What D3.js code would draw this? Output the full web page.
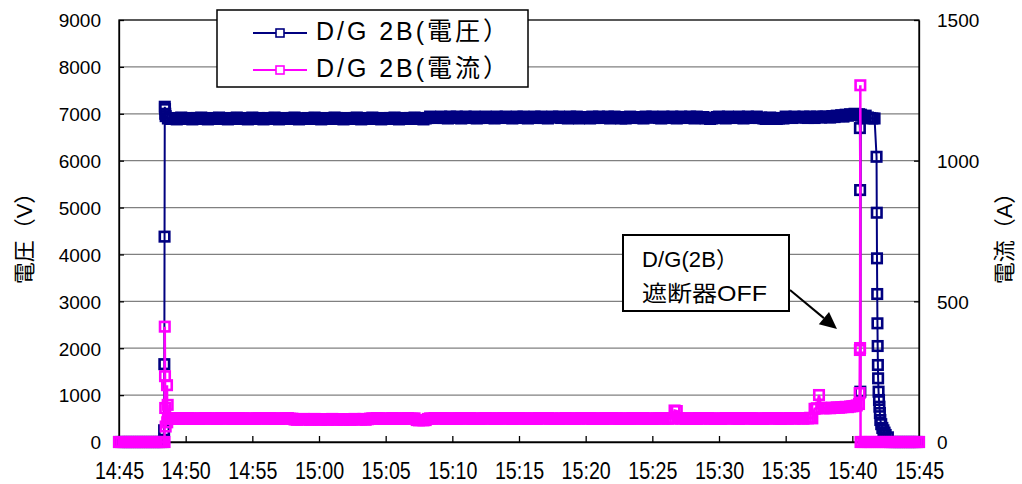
<!DOCTYPE html>
<html><head><meta charset="utf-8">
<script src="https://cdn.jsdelivr.net/npm/d3@7"></script>
<style>body{margin:0;background:#fff} svg{display:block}</style>
</head><body><svg id="c" width="1022" height="484"></svg>
<script>
// ---------------- DATA ----------------
const seriesNames = ["D/G 2B(電圧）", "D/G 2B(電流）"];
const timeTickLabels = ["14:45","14:50","14:55","15:00","15:05","15:10","15:15","15:20","15:25","15:30","15:35","15:40","15:45"];
const timeTickSec = [0,300,600,900,1200,1500,1800,2100,2400,2700,3000,3300,3600];
const voltTicks = [0,1000,2000,3000,4000,5000,6000,7000,8000,9000];
const currTicks = [0,500,1000,1500];
const voltTitle = "電圧（V）";
const currTitle = "電流（A）";
const annotationLines = ["D/G(2B）", "遮断器OFF"];

// regular log: one sample every 10 s from 14:45:00 (seconds after 14:45:00), one row per minute
const gridStepSec = 10;
const voltGrid = [
0,0,0,0,0,0,
0,0,0,0,0,0,
0,0,0,0,0,0,
0,0,0,6950,6900,6890,
6910,6900,6880,6900,6920,6900,
6890,6900,6910,6880,6900,6910,
6900,6920,6890,6900,6880,6900,
6910,6890,6900,6920,6900,6890,
6900,6880,6910,6900,6890,6920,
6900,6910,6890,6900,6880,6900,
6920,6900,6890,6910,6900,6880,
6900,6910,6900,6890,6920,6900,
6880,6900,6910,6900,6890,6900,
6910,6920,6900,6880,6900,6890,
6900,6910,6890,6900,6920,6900,
6890,6880,6900,6910,6900,6890,
6900,6920,6910,6890,6900,6880,
6910,6900,6890,6900,6910,6920,
6900,6880,6900,6890,6910,6900,
6920,6900,6890,6900,6880,6910,
6900,6890,6910,6900,6920,6900,
6880,6900,6910,6890,6900,6910,
6900,6920,6890,6900,6910,6880,
6900,6910,6940,6920,6930,6910,
6920,6940,6910,6930,6900,6940,
6930,6910,6940,6920,6900,6930,
6940,6920,6910,6930,6940,6900,
6910,6930,6920,6940,6910,6930,
6920,6900,6940,6930,6910,6920,
6940,6920,6930,6900,6930,6940,
6910,6930,6940,6920,6900,6930,
6930,6940,6910,6920,6940,6910,
6920,6900,6930,6940,6920,6930,
6940,6910,6920,6930,6900,6940,
6910,6930,6940,6900,6930,6920,
6930,6920,6900,6940,6910,6930,
6940,6930,6910,6920,6940,6900,
6920,6940,6930,6910,6900,6930,
6900,6920,6940,6930,6920,6910,
6930,6910,6900,6940,6930,6920,
6940,6920,6930,6910,6900,6940,
6910,6930,6920,6940,6930,6900,
6920,6940,6910,6930,6920,6940,
6930,6900,6940,6920,6910,6930,
6900,6910,6890,6900,6910,6930,
6940,6920,6930,6900,6940,6930,
6920,6930,6910,6940,6920,6900,
6930,6940,6920,6910,6930,6940,
6910,6920,6900,6890,6900,6920,
6900,6910,6890,6900,6910,6900,
6940,6920,6930,6910,6940,6930,
6920,6930,6940,6920,6910,6940,
6930,6910,6940,6930,6920,6940,
6940,6930,6920,6950,6930,6960,
6950,6970,6940,6980,6960,6990,
6970,7000,6980,6990,6960,6940,
6960,6920,6910,6900,6900,4890,
896,380,250,150,100,0,
0,0,0,0,0,0,
0,0,0,0,0,0,
0
];
const currGrid = [
0,0,0,0,0,0,
0,0,0,0,0,0,
0,0,0,0,0,0,
0,0,0,55,83,84,
84,83,85,82,84,83,
83,85,84,82,83,84,
82,84,83,85,84,83,
84,83,82,84,85,83,
83,84,85,83,82,84,
85,83,84,82,83,84,
83,82,84,85,83,84,
84,83,85,83,82,84,
82,84,83,84,85,83,
83,80,79,81,80,82,
81,80,79,80,82,81,
80,79,81,80,79,81,
82,80,79,81,80,79,
80,81,79,80,82,80,
81,80,82,79,81,83,
84,83,85,84,83,82,
83,84,82,85,84,83,
84,82,83,84,85,83,
83,84,78,77,78,77,
78,82,84,83,85,84,
83,85,84,82,83,84,
84,83,82,84,85,83,
83,84,85,83,82,84,
82,83,84,85,83,84,
84,82,83,84,83,85,
83,84,85,82,84,83,
85,83,84,83,82,84,
83,84,82,85,84,83,
84,85,83,84,82,83,
82,84,83,85,83,84,
83,82,84,83,85,84,
84,83,85,82,83,84,
83,84,82,84,85,83,
85,83,84,83,82,84,
84,82,83,85,84,83,
83,84,85,83,82,84,
82,83,84,84,85,83,
84,83,85,83,112,110,
85,83,84,82,84,83,
83,84,82,85,83,84,
84,85,83,84,82,83,
83,82,84,85,84,83,
85,84,83,82,84,85,
83,84,85,84,83,82,
84,83,82,84,85,84,
83,85,84,83,82,84,
84,83,85,84,83,85,
85,84,83,85,84,86,
84,118,120,167,122,120,
120,121,120,122,121,123,
122,123,124,125,124,126,
127,128,130,135,0,0,
0,0,0,0,0,0,
0,0,0,0,0,0,
0,0,0,0,0,0,
0,0,0,0,0,0,
0
];
// fast-logged points around the switching events (seconds after 14:45:00)
const voltBurstSec = [203,204,205,206,207,208, 3334,3335,3336,3338, 3409,3411,3412,3413,3414,3415,3416,3418,3422,3424,3426,3435,3445];
const voltBurstVal = [250,1660,4380,7150,7100,7000, 6695,5373,1073,6980, 6083,3917,3156,2531,2047,1642,1358,1073,753,618,469,300,200];
const currBurstSec = [205,206,207,208,216,217,219, 3333,3334,3335,3336,3337];
const currBurstVal = [0,410,234,121,202,70,132, 174,327,334,1268,0];

// ---------------- CHART ----------------
const svg = d3.select("#c");
const pL = 119, pR = 919, pT = 20, pB = 442;
const FONT = "'Liberation Sans', Arial, 'Noto Sans CJK JP', sans-serif";
const navy = "#000080", mag = "#FF00FF";

const x = d3.scaleLinear().domain([0, 3600]).range([pL, pR]);
const yV = d3.scaleLinear().domain([0, 9000]).range([pB, pT]);
const yA = d3.scaleLinear().domain([0, 1500]).range([pB, pT]);

function build(grid, bs, bv) {
  return grid.map((v, i) => ({t: i * gridStepSec, v}))
    .concat(bs.map((t, i) => ({t, v: bv[i]})))
    .sort((a, b) => a.t - b.t);
}
const voltPts = build(voltGrid, voltBurstSec, voltBurstVal);
const currPts = build(currGrid, currBurstSec, currBurstVal);

// gridlines
svg.append("g").selectAll("line").data(voltTicks.filter(d => d > 0 && d < 9000)).join("line")
  .attr("x1", pL).attr("x2", pR).attr("y1", d => yV(d)).attr("y2", d => yV(d))
  .attr("stroke", "#808080").attr("stroke-width", 1.3);

// frame
svg.append("rect").attr("x", pL).attr("y", pT).attr("width", pR - pL).attr("height", pB - pT)
  .attr("fill", "none").attr("stroke", "#000").attr("stroke-width", 1.3);

// axes
const fmt = d3.format("d");
const axL = svg.append("g").attr("transform", `translate(${pL},0)`)
  .call(d3.axisLeft(yV).tickValues(voltTicks).tickFormat(fmt).tickSizeInner(-5).tickSizeOuter(0).tickPadding(18));
const axR = svg.append("g").attr("transform", `translate(${pR},0)`)
  .call(d3.axisRight(yA).tickValues(currTicks).tickFormat(fmt).tickSizeInner(-5).tickSizeOuter(0).tickPadding(18));
const axB = svg.append("g").attr("transform", `translate(0,${pB})`)
  .call(d3.axisBottom(x).tickValues(timeTickSec).tickFormat((d, i) => timeTickLabels[i]).tickSizeInner(-6).tickSizeOuter(0));
[axL, axR, axB].forEach(a => {
  a.select(".domain").attr("stroke", "#000").attr("stroke-width", 1.3);
  a.selectAll(".tick line").attr("stroke", "#000").attr("stroke-width", 1.3);
  a.selectAll("text").attr("font-family", FONT).attr("fill", "#000");
});
axL.selectAll("text").attr("font-size", 19).attr("dy", "0.36em");
axR.selectAll("text").attr("font-size", 19).attr("dy", "0.36em");
axB.selectAll("text").attr("font-size", 24).attr("y", 0).attr("dy", 0)
  .attr("transform", "translate(0,37) scale(0.82,1)");

// series
function drawSeries(pts, ys, color, lw) {
  const g = svg.append("g");
  g.append("path").datum(pts)
    .attr("d", d3.line().x(d => x(d.t)).y(d => ys(d.v)))
    .attr("fill", "none").attr("stroke", color).attr("stroke-width", lw);
  g.selectAll("rect").data(pts).join("rect")
    .attr("x", d => x(d.t) - 4.75).attr("y", d => ys(d.v) - 4.75)
    .attr("width", 9.5).attr("height", 9.5)
    .attr("fill", "none").attr("stroke", color).attr("stroke-width", 2.6);
}
drawSeries(voltPts, yV, navy, 2);
drawSeries(currPts, yA, mag, 2.5);

// axis titles
svg.append("text").attr("transform", "translate(32,233) rotate(-90)")
  .attr("text-anchor", "middle").attr("font-family", FONT).attr("font-size", 22).text(voltTitle);
svg.append("text").attr("transform", "translate(1012,233) rotate(-90)")
  .attr("text-anchor", "middle").attr("font-family", FONT).attr("font-size", 22).text(currTitle);

// legend
const lg = svg.append("g");
lg.append("rect").attr("x", 217).attr("y", 10).attr("width", 311).attr("height", 77)
  .attr("fill", "#fff").attr("stroke", "#000").attr("stroke-width", 1.5);
[[navy, 33, 40], [mag, 70, 77]].forEach(([c, ly, by], i) => {
  lg.append("line").attr("x1", 253).attr("x2", 307).attr("y1", ly).attr("y2", ly)
    .attr("stroke", c).attr("stroke-width", 2);
  lg.append("rect").attr("x", 276).attr("y", ly - 4).attr("width", 8).attr("height", 8)
    .attr("fill", "#fff").attr("stroke", c).attr("stroke-width", 1.6);
  lg.append("text").attr("x", 316).attr("y", by).attr("font-family", FONT).attr("font-size", 25)
    .attr("textLength", 192).attr("lengthAdjust", "spacing").text(seriesNames[i]);
});

// annotation
const an = svg.append("g");
an.append("rect").attr("x", 623).attr("y", 235).attr("width", 166).attr("height", 76)
  .attr("fill", "#fff").attr("stroke", "#000").attr("stroke-width", 2);
an.append("text").attr("x", 642).attr("y", 267).attr("font-family", FONT).attr("font-size", 22)
  .attr("textLength", 96).attr("lengthAdjust", "spacing").text(annotationLines[0]);
an.append("text").attr("x", 642).attr("y", 301).attr("font-family", FONT).attr("font-size", 22)
  .attr("textLength", 125).attr("lengthAdjust", "spacingAndGlyphs").text(annotationLines[1]);
const a0 = [790, 290], a1 = [837, 329];
const dx = a1[0] - a0[0], dy = a1[1] - a0[1], L = Math.hypot(dx, dy);
const ux = dx / L, uy = dy / L, hl = 17, hw = 8;
const bx = a1[0] - ux * hl, by = a1[1] - uy * hl;
an.append("line").attr("x1", a0[0]).attr("y1", a0[1]).attr("x2", bx).attr("y2", by)
  .attr("stroke", "#000").attr("stroke-width", 2);
an.append("polygon").attr("points", [[a1[0], a1[1]], [bx - uy * hw, by + ux * hw], [bx + uy * hw, by - ux * hw]].map(p => p.join(",")).join(" "))
  .attr("fill", "#000");
</script></body></html>
